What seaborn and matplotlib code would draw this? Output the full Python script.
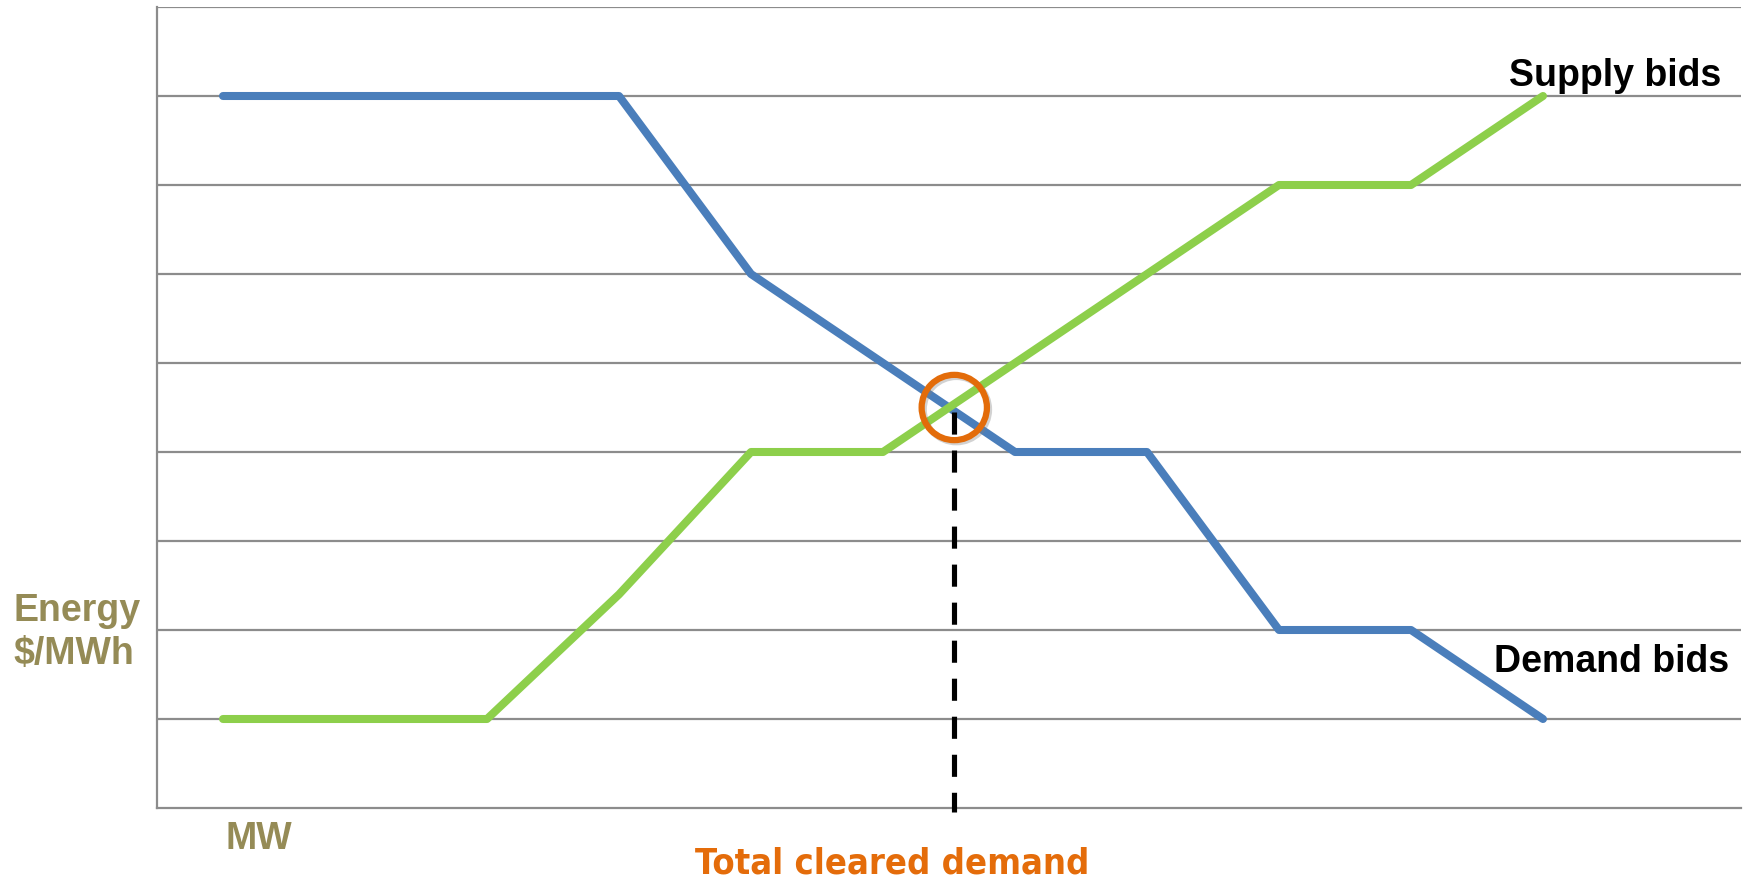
import matplotlib
matplotlib.use("Agg")
import matplotlib.pyplot as plt
import matplotlib.patheffects as pe
import seaborn as sns
import numpy as np

# Data
mw = [0, 1, 2, 3, 4, 5, 6, 7, 8, 9, 10]
demand_bids = [8, 8, 8, 8, 6, 5, 4, 4, 2, 2, 1]
supply_bids = [1, 1, 1, 2.4, 4, 4, 5, 6, 7, 7, 8]
cleared_mw = 5.5
cleared_price = 4.5
grid_levels = [1, 2, 3, 4, 5, 6, 7, 8, 9]

sns.set_theme(style="white")
plt.rcParams['font.family'] = ['Liberation Sans', 'DejaVu Sans']

fig = plt.figure(figsize=(17.48, 8.85), dpi=100)
ax = fig.add_axes([157/1748, 1 - 808/885, (1741 - 157)/1748, (808 - 7)/885])

for g in grid_levels:
    ax.axhline(g, color='#8c8c8c', lw=1.6, zorder=1)

sns.lineplot(x=mw, y=demand_bids, ax=ax, color='#4A7EBB', lw=5.8, sort=False,
             solid_capstyle='round', solid_joinstyle='round', zorder=3)
sns.lineplot(x=mw, y=supply_bids, ax=ax, color='#8DCF4B', lw=5.8, sort=False,
             solid_capstyle='round', solid_joinstyle='round', zorder=3)

# dashed cleared line
ax.plot([cleared_mw + 0.04, cleared_mw + 0.04], [cleared_price - 0.05, -0.05], color='black',
        lw=3.7, ls=(0, (4.3, 3.1)), clip_on=False, zorder=4)

# orange circle
ax.plot([cleared_mw + 0.04], [cleared_price], marker='o', markersize=47, markerfacecolor='none',
        markeredgecolor='#E36C0A', markeredgewidth=4.5, zorder=5,
        path_effects=[pe.SimpleLineShadow(offset=(1.5, -1.5), shadow_color='gray', alpha=0.35),
                      pe.Normal()])

ax.set_xlim(-0.5, 11.5)
ax.set_ylim(0, 9)
ax.set_xticks([])
ax.set_yticks([])
for s in ['top', 'right']:
    ax.spines[s].set_visible(False)
for s in ['left', 'bottom']:
    ax.spines[s].set_color('#8c8c8c')
    ax.spines[s].set_linewidth(1.6)

ax.text(10.55, 8.22, 'Supply bids', fontsize=27, fontweight='bold', color='black',
        ha='center', va='center', zorder=6)
ax.text(10.52, 1.64, 'Demand bids', fontsize=27, fontweight='bold', color='black',
        ha='center', va='center', zorder=6)

olive = '#958B56'
fig.text(13/1748, 1 - 611/885, 'Energy', fontsize=27, fontweight='bold', color=olive,
         ha='left', va='center')
fig.text(13/1748, 1 - 654/885, '$/MWh', fontsize=27, fontweight='bold', color=olive,
         ha='left', va='center')
fig.text(259/1748, 1 - 839/885, 'MW', fontsize=27, fontweight='bold', color=olive,
         ha='center', va='center')
fig.text(892/1748, 1 - 863/885, 'Total cleared demand', fontsize=26, fontweight='heavy',
         fontstretch='condensed', family='DejaVu Sans', color='#E46C0A',
         ha='center', va='center')

fig.savefig('out.png', dpi=100)
